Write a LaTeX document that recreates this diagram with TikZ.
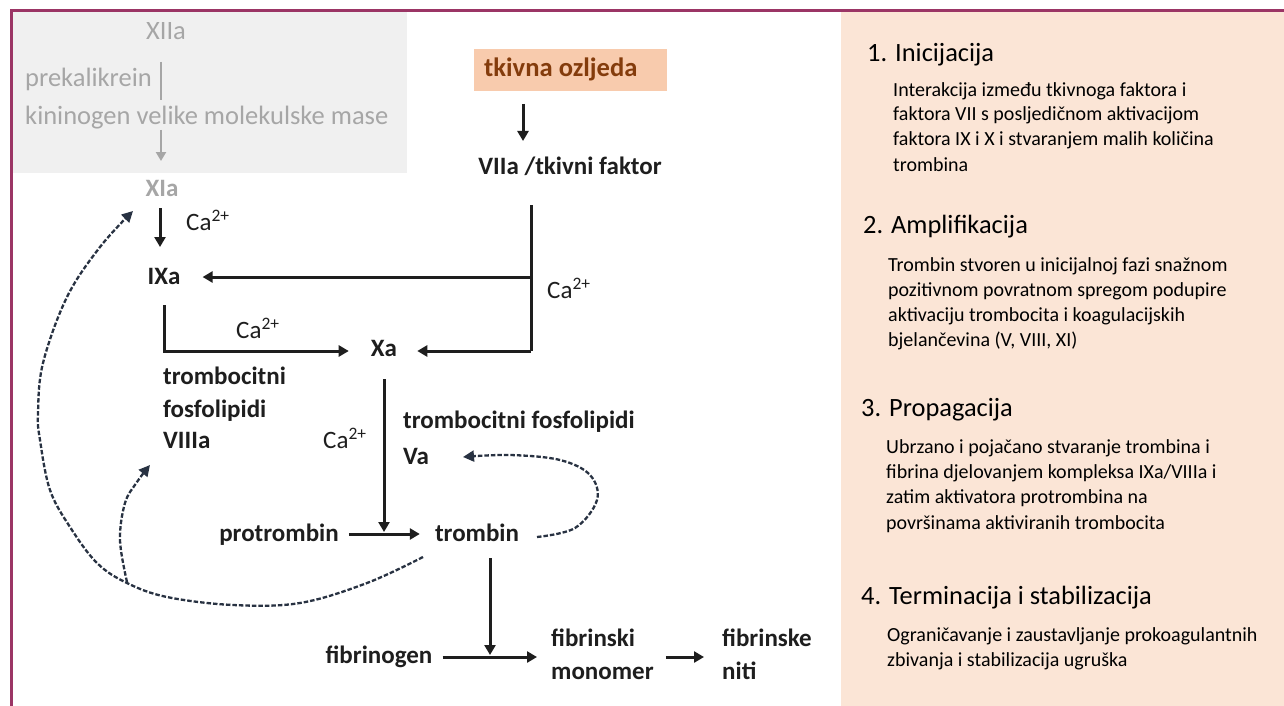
\documentclass[tikz,border=0pt]{standalone}
\usepackage{fontspec}
\setmainfont{Carlito}
\usetikzlibrary{arrows.meta}
\definecolor{frame}{RGB}{155,53,101}
\definecolor{graybox}{RGB}{240,240,240}
\definecolor{graytxt}{RGB}{166,166,166}
\definecolor{panel}{RGB}{251,229,214}
\definecolor{orangebox}{RGB}{248,203,173}
\definecolor{brown}{RGB}{132,60,12}
\definecolor{dark}{RGB}{30,30,30}
\definecolor{dashc}{RGB}{40,50,66}
\begin{document}
\begin{tikzpicture}[x=1pt,y=-1pt,
  base/.style={inner sep=0pt, text height=1.3em, text depth=0em, anchor=west},
  lbl/.style={base, font=\fontsize{25}{30}\selectfont\bfseries, text=dark},
  calbl/.style={base, font=\fontsize{25}{30}\selectfont, text=dark},
  glbl/.style={base, font=\fontsize{26.5}{30}\selectfont, text=graytxt},
  ttl/.style={base, font=\fontsize{26.4}{30}\selectfont, text=black},
  body/.style={base, font=\fontsize{20}{25}\selectfont, text=black},
  arr/.style={draw=dark, line width=3pt, -{Triangle[length=10pt,width=11pt]}},
  ln/.style={draw=dark, line width=3pt},
  garr/.style={draw=graytxt, line width=2.4pt, -{Triangle[length=9pt,width=10pt]}},
  dsh/.style={draw=dashc, line width=2.3pt, dash pattern=on 4.5pt off 2pt, -{Triangle[length=11pt,width=11pt]}}]
\useasboundingbox (0,0) rectangle (1284,706);
% backgrounds
\fill[white] (0,0) rectangle (1284,706);
\fill[panel] (841,12) rectangle (1284,706);
\fill[graybox] (12,12) rectangle (407,173);
\draw[frame, line width=3pt] (11,706) -- (11,11) -- (1284,11);

% gray intrinsic part
\node[glbl, anchor=center] (xiia) at (166,33) {XIIa};
\node[glbl] (prek) at (25,80) {prekalikrein};
\node[glbl] (kin) at (25,118) {kininogen velike molekulske mase};
\coordinate (gtop) at (161,62);
\draw[draw=graytxt, line width=2.4pt] (gtop) -- (161,100);
\node[base, anchor=center, font=\fontsize{25}{30}\selectfont\bfseries, text=graytxt] (xia) at (162,190) {XIa};
\coordinate (gs) at (161,130);
\draw[garr] (gs) -- (161,161);

% extrinsic
\node[fill=orangebox, minimum width=193pt, minimum height=42pt, anchor=west, inner sep=0pt] (tkbox) at (474,70) {};
\node[base, text=brown, font=\fontsize{26.6}{30}\selectfont\bfseries] (tk) at (484,70) {tkivna ozljeda};
\node[lbl, anchor=center] (vii) at (570,168) {VIIa /tkivni faktor};
\coordinate (ta) at (523,104);
\draw[arr] (ta) -- (523,141);

\node[lbl, anchor=center] (ixa) at (164,278) {IXa};
\node[lbl, anchor=center] (xa) at (384,350) {Xa};
\coordinate (vtop) at (531,205);
\coordinate (vbot) at (531,351);
\draw[ln] (vtop) -- (vbot);
\draw[arr] (vtop |- 0,277) -- ([xshift=22pt]ixa.east |- 0,277);
\draw[arr] (vbot) -- ([xshift=20pt]xa.east |- vbot);
\node[calbl] (ca1) at (547,292) {Ca\textsuperscript{2+}};

% XIa -> IXa
\coordinate (xa1) at (160,208);
\draw[arr] (xa1) -- (160,247);
\node[calbl] (ca2) at (186,224) {Ca\textsuperscript{2+}};

% IXa -> Xa
\coordinate (ixb) at (164,305);
\draw[arr] (ixb) -- (164,351) -- ([xshift=-22pt]xa.west |- 0,351);
\node[calbl] (ca3) at (236,332) {Ca\textsuperscript{2+}};
\node[lbl] (tf1) at (163,378) {trombocitni};
\node[lbl] (tf2) at (163,411) {fosfolipidi};
\node[lbl] (viiia) at (163,442) {VIIIa};

% Xa -> trombin
\node[lbl] (tf3) at (403,422) {trombocitni fosfolipidi};
\node[lbl] (va) at (403,458) {Va};
\node[calbl] (ca4) at (323,442) {Ca\textsuperscript{2+}};
\node[lbl, anchor=center] (prot) at (279,535) {protrombin};
\node[lbl, anchor=center] (tromb) at (477,535) {trombin};
\coordinate (xd) at (384,379);
\draw[arr] ([xshift=10pt]prot.east |- 0,534) -- ([xshift=-15pt]tromb.west |- 0,534);
\draw[arr] (xd) -- (384,532);

% trombin -> fibrin
\node[lbl, anchor=center] (fgen) at (379,657) {fibrinogen};
\node[lbl] (fm1) at (551,640) {fibrinski};
\node[lbl] (fm2) at (551,673) {monomer};
\node[lbl] (fn1) at (722,640) {fibrinske};
\node[lbl] (fn2) at (722,673) {niti};
\coordinate (td) at (490,558);
\draw[arr] ([xshift=10pt]fgen.east |- 0,657) -- ([xshift=-14pt]fm1.west |- 0,657);
\draw[arr] (td) -- (490,655);
\draw[arr] ([xshift=12pt]fm2.east |- 0,657) -- ([xshift=-18pt]fn1.west |- 0,657);

% dashed feedback
\draw[dsh] plot[smooth, tension=0.6] coordinates {(537,537) (575,528) (597,500) (590,475) (560,460) (510,455) (463,457)};
\draw[dsh] plot[smooth, tension=0.6] coordinates {(423,557) (367,583) (300,603) (233,605) (167,597) (127,583) (97,563) (70,527) (50,490) (40,440) (38,413) (43,363) (67,297) (100,247) (133,211)};
\draw[dsh] plot[smooth, tension=0.6] coordinates {(127,582) (120,540) (125,503) (137,482) (150,465)};

% right panel
\node[ttl] (t1) at (867,55) {1. Inicijacija};
\node[body] (b11) at (893,90) {Interakcija između tkivnoga faktora i};
\node[body] (b12) at (893,114) {faktora VII s posljedičnom aktivacijom};
\node[body] (b13) at (893,139) {faktora IX i X i stvaranjem malih količina};
\node[body] (b14) at (893,165) {trombina};
\node[ttl] (t2) at (863,227) {2. Amplifikacija};
\node[body] (b21) at (888,265) {Trombin stvoren u inicijalnoj fazi snažnom};
\node[body] (b22) at (888,290) {pozitivnom povratnom spregom podupire};
\node[body] (b23) at (888,315) {aktivaciju trombocita i koagulacijskih};
\node[body] (b24) at (888,340) {bjelančevina (V, VIII, XI)};
\node[ttl] (t3) at (861,410) {3. Propagacija};
\node[body] (b31) at (886,447) {Ubrzano i pojačano stvaranje trombina i};
\node[body] (b32) at (886,472) {fibrina djelovanjem kompleksa IXa/VIIIa i};
\node[body] (b33) at (886,497) {zatim aktivatora protrombina na};
\node[body] (b34) at (886,523) {površinama aktiviranih trombocita};
\node[ttl] (t4) at (861,598) {4. Terminacija i stabilizacija};
\node[body] (b41) at (887,635) {Ograničavanje i zaustavljanje prokoagulantnih};
\node[body] (b42) at (887,660) {zbivanja i stabilizacija ugruška};
\end{tikzpicture}
\end{document}
